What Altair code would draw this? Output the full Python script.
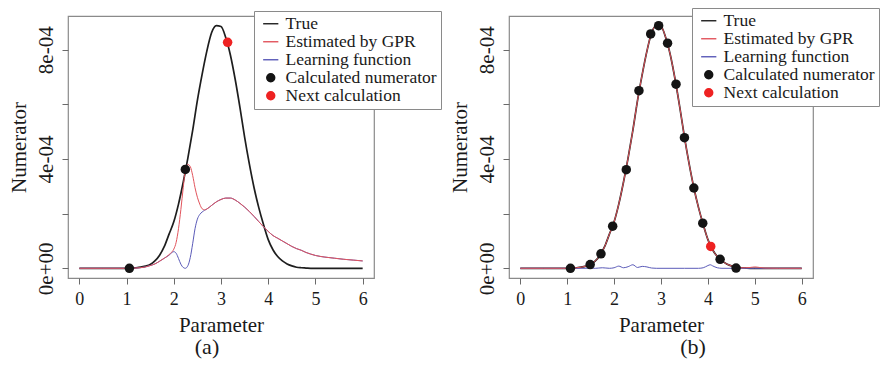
import altair as alt
import pandas as pd

# ---------------- data ----------------
SERIES = ["True", "Estimated by GPR", "Learning function",
          "Calculated numerator", "Next calculation"]
SERIES_COLORS = ["#1e1e1e", "#e2545c", "#5a5ab8", "#141414", "#ee2222"]
LEGEND_SHAPES = ["M-1.9,0H1.9", "M-1.9,0H1.9", "M-1.9,0H1.9", "circle", "circle"]

X_TICKS = [0, 1, 2, 3, 4, 5, 6]
Y_TICKS = [0, 0.0002, 0.0004, 0.0006, 0.0008]
Y_TICK_LABELS = ["0e+00", "", "4e-04", "", "8e-04"]
CAPTIONS = ["(a)", "(b)"]

# true curve (values in units of 1e-4)
TRUE_X = [0.0, 0.5, 0.9, 1.0, 1.1, 1.2, 1.3, 1.4, 1.5, 1.6, 1.7, 1.8, 1.9,
          2.0, 2.1, 2.2, 2.3, 2.4, 2.5, 2.6, 2.7, 2.8, 2.9, 3.0, 3.1, 3.2,
          3.3, 3.4, 3.5, 3.6, 3.7, 3.8, 3.9, 4.0, 4.1, 4.2, 4.3, 4.4, 4.5,
          4.6, 4.7, 4.8, 4.9, 5.0, 5.5, 6.0]
TRUE_Y = [0.0, 0.0, 0.0, 0.0, 0.01, 0.02, 0.04, 0.08, 0.14, 0.27, 0.48, 0.80, 1.25,
          1.70, 2.35, 3.15, 4.05, 5.05, 6.15, 7.10, 7.95, 8.62, 8.88, 8.85, 8.45, 7.80,
          6.92, 5.90, 4.80, 3.82, 2.95, 2.22, 1.60, 1.05, 0.68, 0.43, 0.27, 0.16, 0.09,
          0.04, 0.02, 0.01, 0.0, 0.0, 0.0, 0.0]

# panel (a): GPR estimate and learning function
GPR_A_X = [0.0, 0.5, 1.0, 1.06, 1.2, 1.4, 1.5, 1.6, 1.7, 1.8, 1.9, 1.95, 2.0, 2.05,
           2.1, 2.15, 2.2, 2.245, 2.3, 2.35, 2.4, 2.45, 2.5, 2.55, 2.6, 2.65, 2.7,
           2.8, 2.9, 3.0, 3.1, 3.2, 3.3, 3.4, 3.5, 3.6, 3.7, 3.8, 3.9, 4.0, 4.1,
           4.2, 4.3, 4.4, 4.5, 4.6, 4.7, 4.8, 4.9, 5.0, 5.2, 5.4, 5.6, 5.8, 6.0]
GPR_A_Y = [0.0, 0.0, 0.0, 0.0, 0.01, 0.05, 0.10, 0.16, 0.26, 0.37, 0.50, 0.58, 0.70, 0.95,
           1.45, 2.15, 2.95, 3.60, 3.80, 3.72, 3.40, 2.95, 2.60, 2.35, 2.18, 2.14, 2.17,
           2.30, 2.43, 2.52, 2.57, 2.57, 2.50, 2.38, 2.24, 2.08, 1.90, 1.71, 1.52, 1.35, 1.20,
           1.10, 1.00, 0.90, 0.80, 0.72, 0.66, 0.58, 0.52, 0.47, 0.41, 0.37, 0.33, 0.30, 0.27]
LEARN_A_X = GPR_A_X
LEARN_A_Y = [0.0, 0.0, 0.0, 0.0, 0.01, 0.05, 0.10, 0.16, 0.26, 0.37, 0.48, 0.56, 0.61, 0.55,
             0.36, 0.15, 0.03, 0.00, 0.10, 0.40, 0.90, 1.45, 1.80, 1.97, 2.06, 2.12, 2.17,
             2.30, 2.43, 2.52, 2.57, 2.57, 2.50, 2.38, 2.24, 2.08, 1.90, 1.71, 1.52, 1.35, 1.20,
             1.10, 1.00, 0.90, 0.80, 0.72, 0.66, 0.58, 0.52, 0.47, 0.41, 0.37, 0.33, 0.30, 0.27]
CALC_A_X = [1.06, 2.245]
CALC_A_Y = [0.0, 3.62]
NEXT_A_X = [3.14]
NEXT_A_Y = [8.27]

# panel (b)
GPR_B_X = TRUE_X[:41] + [4.8, 4.9, 5.0, 5.1, 5.2, 5.5, 6.0]
GPR_B_Y = TRUE_Y[:41] + [0.02, 0.03, 0.05, 0.03, 0.01, 0.0, 0.0]
LEARN_B_X = [0.0, 1.0, 1.4, 1.5, 1.6, 1.75, 1.9, 2.0, 2.1, 2.2, 2.3, 2.4, 2.5, 2.6,
             2.7, 2.8, 2.9, 3.5, 3.8, 3.9, 4.0, 4.05, 4.1, 4.2, 4.3, 4.6, 5.0, 6.0]
LEARN_B_Y = [0.0, 0.0, 0.0, 0.01, 0.0, 0.02, 0.0, 0.02, 0.08, 0.02, 0.06, 0.13, 0.03, 0.07,
             0.05, 0.01, 0.0, 0.0, 0.0, 0.02, 0.10, 0.13, 0.09, 0.02, 0.0, 0.0, 0.0, 0.0]
CALC_B_X = [1.07, 1.49, 1.72, 1.97, 2.26, 2.53, 2.78, 2.95, 3.14, 3.32, 3.50, 3.70,
            3.89, 4.26, 4.60]
CALC_B_Y = [0.0, 0.135, 0.53, 1.54, 3.61, 6.50, 8.58, 8.88, 8.24, 6.74, 4.78, 2.94,
            1.65, 0.33, 0.01]
NEXT_B_X = [4.06]
NEXT_B_Y = [0.80]

# ---------------- styling ----------------
FONT = "Liberation Serif"
TEXT = "#1a1a1a"
GRAY = "#8a8a8a"
X_DOMAIN = [-0.24, 6.24]
Y_DOMAIN = [-3.55e-5, 9.235e-4]


def frame(xs, ys, name):
    return pd.DataFrame({"x": xs, "y": [v * 1e-4 for v in ys], "series": name})


color_scale = alt.Scale(domain=SERIES, range=SERIES_COLORS)
shape_scale = alt.Scale(domain=SERIES, range=LEGEND_SHAPES)

label_parts = [f"abs(datum.value - {v}) < 1e-9 ? '{lab}'"
               for v, lab in zip(Y_TICKS, Y_TICK_LABELS) if lab]
label_expr = " : ".join(label_parts) + " : ''"

x_axis = alt.Axis(values=X_TICKS, format="d", title="Parameter", grid=False, domain=False,
                  tickSize=6, tickColor="#6a6a6a", tickWidth=1,
                  labelFont=FONT, labelFontSize=18, labelColor=TEXT,
                  labelBaseline="alphabetic", labelPadding=20, labelFlush=False,
                  labelOverlap=False,
                  titleFont=FONT, titleFontSize=21, titleFontWeight="normal",
                  titleColor=TEXT, titleBaseline="alphabetic", titlePadding=27,
                  minExtent=26, maxExtent=26)
y_axis = alt.Axis(values=Y_TICKS, labelExpr=label_expr, title="Numerator", grid=False,
                  domain=False, tickSize=6, tickColor="#6a6a6a", tickWidth=1,
                  labelFont=FONT, labelFontSize=21, labelColor=TEXT, labelAngle=270,
                  labelAlign="center", labelBaseline="alphabetic", labelPadding=10,
                  labelOverlap=False, labelFlush=False,
                  titleFont=FONT, titleFontSize=21, titleFontWeight="normal",
                  titleColor=TEXT, titleBaseline="alphabetic", titlePadding=13,
                  minExtent=30, maxExtent=30)


def make_legend(lx, ly):
    return alt.Legend(title=None, orient="none", legendX=lx, legendY=ly,
                      strokeColor=GRAY, fillColor="white", padding=4, symbolOffset=4,
                      labelFont=FONT, labelFontSize=17.5, labelColor=TEXT, labelOffset=6,
                      rowPadding=-2.2, symbolSize=64, symbolStrokeWidth=1.4,
                      labelLimit=400)


def panel(true_df, learn_df, gpr_df, pts_df, width, legend, caption, cap_dx):
    xenc = alt.X("x:Q", scale=alt.Scale(domain=X_DOMAIN, nice=False, zero=False), axis=x_axis)
    yenc = alt.Y("y:Q", scale=alt.Scale(domain=Y_DOMAIN, nice=False, zero=False), axis=y_axis)
    col = alt.Color("series:N", scale=color_scale, legend=legend)
    layers = []
    for df, w in [(true_df, 1.7), (learn_df, 1.0), (gpr_df, 1.0)]:
        layers.append(alt.Chart(df).mark_line(strokeWidth=w, interpolate="monotone")
                      .encode(x=xenc, y=yenc, color=col))
    layers.append(alt.Chart(pts_df).mark_point(filled=True, size=90, opacity=1)
                  .encode(x=xenc, y=yenc, color=col,
                          shape=alt.Shape("series:N", scale=shape_scale, legend=legend)))
    return alt.layer(*layers).properties(
        width=width, height=262,
        title=alt.TitleParams(text=caption, orient="bottom", anchor="middle", font=FONT,
                              fontSize=22, fontWeight="normal", color=TEXT,
                              baseline="alphabetic", offset=19, dx=cap_dx))


pts_a = pd.concat([frame(CALC_A_X, CALC_A_Y, SERIES[3]), frame(NEXT_A_X, NEXT_A_Y, SERIES[4])])
pts_b = pd.concat([frame(CALC_B_X, CALC_B_Y, SERIES[3]), frame(NEXT_B_X, NEXT_B_Y, SERIES[4])])

panel_a = panel(frame(TRUE_X, TRUE_Y, SERIES[0]), frame(LEARN_A_X, LEARN_A_Y, SERIES[2]),
                frame(GPR_A_X, GPR_A_Y, SERIES[1]), pts_a, 306, make_legend(186, -5),
                CAPTIONS[0], -14)
panel_b = panel(frame(TRUE_X, TRUE_Y, SERIES[0]), frame(LEARN_B_X, LEARN_B_Y, SERIES[2]),
                frame(GPR_B_X, GPR_B_Y, SERIES[1]), pts_b, 304, make_legend(183, -8),
                CAPTIONS[1], 32)

chart = (alt.hconcat(panel_a, panel_b, spacing=135, bounds="flush")
         .resolve_scale(color="independent", shape="independent", x="independent", y="independent")
         .resolve_legend(color="independent", shape="independent")
         .properties(autosize=alt.AutoSizeParams(type="none"),
                     padding={"left": 68, "top": 16, "right": 815, "bottom": 349},
                     background="white")
         .configure_view(stroke=GRAY, strokeWidth=1.2))

chart.save("out.html", embed_options={"renderer": "svg", "actions": False})
